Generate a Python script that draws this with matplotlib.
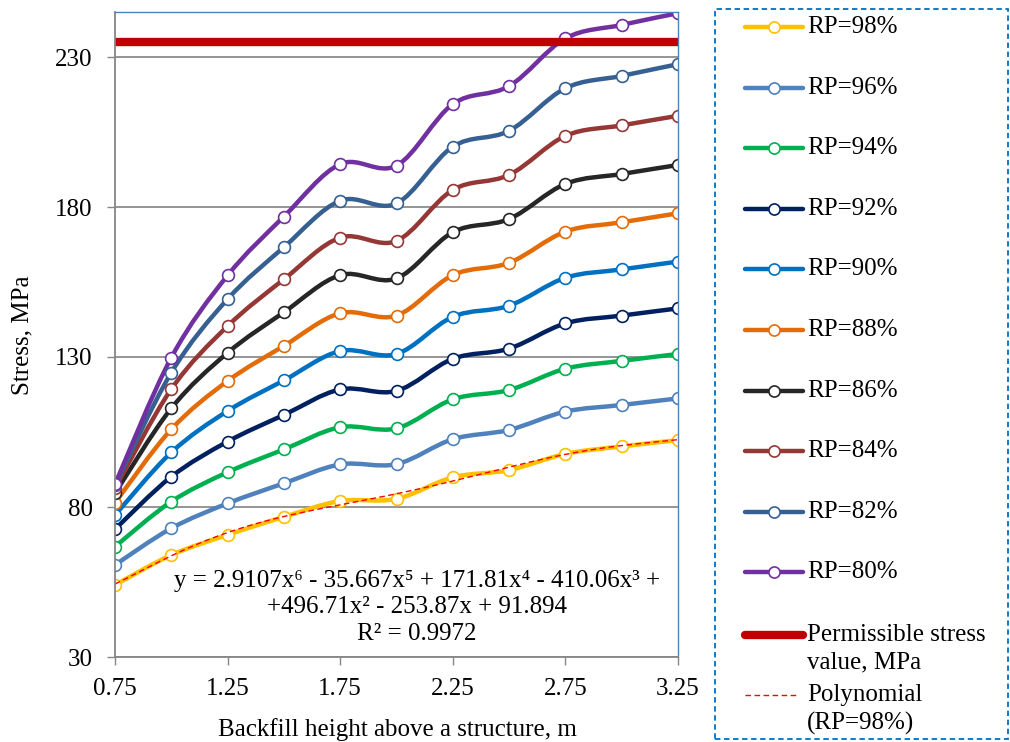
import matplotlib.pyplot as plt
import numpy as np
from matplotlib.path import Path
from matplotlib.patches import PathPatch, Rectangle
from matplotlib.lines import Line2D

plt.rcParams['font.family'] = ['Liberation Serif', 'DejaVu Serif']

# backfill height, m
height = [0.75, 1.0, 1.25, 1.5, 1.75, 2.0, 2.25, 2.5, 2.75, 3.0, 3.25]

# stress, MPa, for each relative packing (RP)
rp98 = [54.0, 64.0, 70.7, 76.7, 82.0, 82.7, 89.9, 92.3, 97.7, 100.2, 102.3]
rp96 = [60.7, 72.9, 81.2, 87.9, 94.2, 94.3, 102.6, 105.7, 111.8, 114.0, 116.2]
rp94 = [66.8, 81.8, 91.6, 99.2, 106.6, 106.2, 115.9, 119.0, 126.1, 128.7, 131.0]
rp92 = [72.6, 90.1, 101.8, 110.7, 119.2, 118.7, 129.4, 132.8, 141.2, 143.8, 146.2]
rp90 = [77.3, 98.2, 112.0, 122.2, 132.0, 131.0, 143.4, 147.1, 156.4, 159.2, 161.8]
rp88 = [81.4, 105.9, 122.0, 133.7, 144.6, 143.8, 157.3, 161.4, 171.8, 174.9, 177.9]
rp86 = [84.6, 112.9, 131.4, 144.9, 157.3, 156.2, 171.6, 176.0, 187.7, 191.0, 194.0]
rp84 = [86.2, 119.3, 140.3, 155.9, 169.8, 168.7, 185.7, 190.7, 203.7, 207.2, 210.4]
rp82 = [87.2, 124.8, 149.3, 166.6, 182.1, 181.2, 200.1, 205.4, 219.6, 223.7, 227.6]
rp80 = [87.6, 129.8, 157.2, 176.8, 194.3, 193.8, 214.3, 220.3, 236.2, 240.7, 244.6]

series = [rp98, rp96, rp94, rp92, rp90, rp88, rp86, rp84, rp82, rp80]
labels = ['RP=98%', 'RP=96%', 'RP=94%', 'RP=92%', 'RP=90%',
          'RP=88%', 'RP=86%', 'RP=84%', 'RP=82%', 'RP=80%']
colors = ['#FFC000', '#4F81BD', '#00B050', '#002060', '#0070C0',
          '#E36C09', '#262626', '#953735', '#376092', '#7030A0']

permissible = 235
# trendline of RP=98% as printed on the chart
poly_coef = [2.9107, -35.667, 171.81, -410.06, 496.71, -253.87, 91.894]
eq_text = ('y = 2.9107x\u2076 - 35.667x\u2075 + 171.81x\u2074 - 410.06x\u00b3 +\n'
           '+496.71x\u00b2 - 253.87x + 91.894\nR\u00b2 = 0.9972')

W, H = 1010, 742


def smooth_path(x, y):
    # Excel-like smoothed line, as cubic Bezier segments
    pts = np.column_stack([x, y])
    n = len(pts)
    verts = [pts[0]]
    codes = [Path.MOVETO]
    for i in range(n - 1):
        p0 = pts[max(i - 1, 0)]
        p1 = pts[i]
        p2 = pts[i + 1]
        p3 = pts[min(i + 2, n - 1)]
        verts += [p1 + (p2 - p0) / 6, p2 - (p3 - p1) / 6, p2]
        codes += [Path.CURVE4] * 3
    return Path(verts, codes)


fig = plt.figure(figsize=(W / 100, H / 100), dpi=100)
ax = fig.add_axes([115 / W, 1 - 657 / H, 563 / W, 645 / H])

for y, c in zip(series, colors):
    ax.add_patch(PathPatch(smooth_path(height, y), fill=False, edgecolor=c,
                           lw=3.2, capstyle='round', joinstyle='round'))
    ax.plot(height, y, 'o', ls='none', ms=8.5, mfc='white', mec=c, mew=1.2)

ax.axhline(permissible, color='#C00000', lw=6)
xs = np.linspace(height[0], height[-1], 200)
ax.plot(xs, np.polyval(poly_coef, xs), color='#FF0000', lw=1, ls=(0, (4, 2.5)))

ax.text(0.536, 0.077, eq_text, transform=ax.transAxes, ha='center', va='center',
        multialignment='center', fontsize=18, linespacing=1.27)

ax.set_xlim(0.75, 3.25)
ax.set_ylim(30, 245)
ax.set_xticks([0.75, 1.25, 1.75, 2.25, 2.75, 3.25])
ax.set_xticklabels(['0.75', '1.25', '1.75', '2.25', '2.75', '3.25'])
ax.set_yticks([30, 80, 130, 180, 230])
ax.tick_params(labelsize=18, length=6, width=1, color='#868686')
ax.tick_params(axis='y', pad=10)
ax.tick_params(axis='x', pad=9)
ax.grid(axis='y', color='#8C8C8C', lw=1.3)
ax.set_axisbelow(True)
for s in ['left', 'bottom']:
    ax.spines[s].set_color('#868686')
    ax.spines[s].set_linewidth(1.3)
for s in ['top', 'right']:
    ax.spines[s].set_color('#4F81BD')
    ax.spines[s].set_linewidth(1)

fig.text(397 / W, 1 - 730 / H, 'Backfill height above a structure, m',
         ha='center', va='center', fontsize=18)
fig.text(22 / W, 1 - 335 / H, 'Stress, MPa', ha='center', va='center',
         rotation=90, fontsize=18)

# legend drawn by hand to keep Excel's uneven spacing
fig.add_artist(Rectangle((715 / W, 1 - 739 / H), 293 / W, 730 / H,
                         transform=fig.transFigure, fill=False,
                         edgecolor='#0070C0', lw=1.3, ls=(0, (3, 2))))


def fx(px):
    return px / W


def fy(py):
    return 1 - py / H


for i, (lab, c) in enumerate(zip(labels, colors)):
    yy = 27 + 60.6 * i
    fig.add_artist(Line2D([fx(745), fx(774), fx(803)], [fy(yy)] * 3,
                          transform=fig.transFigure, color=c, lw=3.2,
                          marker='o', markevery=[1], ms=8, mfc='white',
                          mec=c, mew=1.2, solid_capstyle='round'))
    fig.text(fx(807), fy(yy), lab, ha='left', va='center', fontsize=18)

fig.add_artist(Line2D([fx(745), fx(803)], [fy(635)] * 2, transform=fig.transFigure,
                      color='#C00000', lw=6, solid_capstyle='round'))
fig.text(fx(807), fy(624), 'Permissible stress\nvalue, MPa', ha='left', va='top',
         fontsize=18, linespacing=1.32)
fig.add_artist(Line2D([fx(745), fx(797)], [fy(695)] * 2, transform=fig.transFigure,
                      color='#FF0000', lw=1, ls=(0, (4, 2.5))))
fig.text(fx(807), fy(684), 'Polynomial\n(RP=98%)', ha='left', va='top',
         fontsize=18, linespacing=1.32)

fig.savefig('out.png', dpi=100)
